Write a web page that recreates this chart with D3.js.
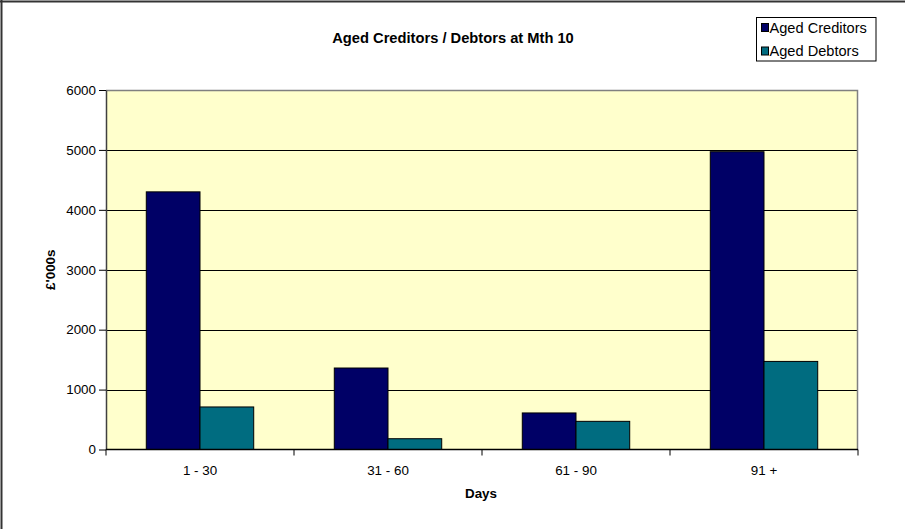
<!DOCTYPE html>
<html>
<head>
<meta charset="utf-8">
<script src="https://cdn.jsdelivr.net/npm/d3@7"></script>
<style>
  html, body { margin: 0; padding: 0; background: #ffffff; }
  svg { display: block; font-family: "Liberation Sans", Arial, sans-serif; }
</style>
</head>
<body>
<svg id="chart" width="905" height="529"></svg>
<script>
// Ageing buckets and the two balances (£'000s)
const categories = ["1 - 30", "31 - 60", "61 - 90", "91 +"];
const seriesNames = ["Aged Creditors", "Aged Debtors"];
const creditors = [4300, 1360, 610, 4970];
const debtors = [710, 180, 470, 1470];
const yTicks = [0, 1000, 2000, 3000, 4000, 5000, 6000];
const seriesColors = ["#000066", "#006C80"];

const svg = d3.select("#chart");
const W = 905, H = 529;
const plot = { left: 106, right: 858, top: 90, bottom: 449.5 };

// outer frame of the chart object
svg.append("line").attr("x1", 0).attr("x2", W).attr("y1", 1.5).attr("y2", 1.5)
  .attr("stroke", "#333").attr("stroke-width", 2);
svg.append("line").attr("x1", 1.5).attr("x2", 1.5).attr("y1", 0).attr("y2", H)
  .attr("stroke", "#333").attr("stroke-width", 2);

const x = d3.scaleBand().domain(categories).range([plot.left, plot.right]).padding(0);
const x1 = d3.scaleBand().domain(seriesNames).range([0, x.bandwidth()])
  .paddingInner(0).paddingOuter(0.75);
const y = d3.scaleLinear().domain([0, 6000]).range([plot.bottom, plot.top]);

// plot background
svg.append("rect")
  .attr("x", plot.left).attr("y", plot.top)
  .attr("width", plot.right - plot.left).attr("height", plot.bottom - plot.top)
  .attr("fill", "#FFFFCC");

// horizontal gridlines
svg.append("g")
  .selectAll("line")
  .data(yTicks.filter(t => t > 0 && t < 6000))
  .join("line")
  .attr("x1", plot.left).attr("x2", plot.right)
  .attr("y1", d => Math.round(y(d)) + 0.5).attr("y2", d => Math.round(y(d)) + 0.5)
  .attr("stroke", "#000").attr("stroke-width", 1);

// plot border (top and right)
svg.append("path")
  .attr("d", `M${plot.left},${plot.top + 0.5}H${plot.right - 0.5}V${plot.bottom}`)
  .attr("fill", "none").attr("stroke", "#808080").attr("stroke-width", 1.5);

// bars
const rows = categories.map((c, i) => ({ cat: c, vals: [creditors[i], debtors[i]] }));
const groups = svg.append("g").selectAll("g")
  .data(rows).join("g")
  .attr("transform", d => `translate(${x(d.cat)},0)`);
groups.selectAll("rect")
  .data(d => d.vals.map((v, j) => ({ name: seriesNames[j], value: v, j })))
  .join("rect")
  .attr("x", d => x1(d.name))
  .attr("y", d => y(d.value))
  .attr("width", x1.bandwidth())
  .attr("height", d => y(0) - y(d.value))
  .attr("fill", d => seriesColors[d.j])
  .attr("stroke", "#000").attr("stroke-width", 1);

// y axis
const yAxis = d3.axisLeft(y).tickValues(yTicks).tickFormat(d3.format("d"))
  .tickSize(7).tickPadding(3).tickSizeOuter(0);
const gy = svg.append("g").attr("transform", `translate(${plot.left},0)`).call(yAxis);
gy.select(".domain").attr("stroke", "#404040").attr("stroke-width", 1.5);
gy.selectAll(".tick line").attr("stroke", "#000");
gy.selectAll(".tick text").attr("font-size", "13.4px").attr("fill", "#000")
  .attr("font-family", "'Liberation Sans', Arial, sans-serif");

// x axis with ticks at category boundaries
const gx = svg.append("g").attr("transform", `translate(0,${plot.bottom})`);
gx.append("line").attr("x1", plot.left).attr("x2", plot.right)
  .attr("y1", 0).attr("y2", 0).attr("stroke", "#000").attr("stroke-width", 1.5);
const bounds = categories.map(c => x(c)).concat([x.range()[1]]);
gx.selectAll("line.tk").data(bounds).join("line").attr("class", "tk")
  .attr("x1", d => d).attr("x2", d => d).attr("y1", 0).attr("y2", 6)
  .attr("stroke", "#000");
gx.selectAll("text").data(categories).join("text")
  .attr("x", d => x(d) + x.bandwidth() / 2)
  .attr("y", 25)
  .attr("text-anchor", "middle")
  .attr("font-size", "13.4px")
  .attr("fill", "#000")
  .text(d => d);

// titles
svg.append("text")
  .attr("x", 453).attr("y", 42.5)
  .attr("text-anchor", "middle")
  .attr("font-size", "14.7px").attr("font-weight", "bold")
  .text("Aged Creditors / Debtors at Mth 10");
svg.append("text")
  .attr("x", 481).attr("y", 498)
  .attr("text-anchor", "middle")
  .attr("font-size", "13.4px").attr("font-weight", "bold")
  .text("Days");
svg.append("text")
  .attr("transform", `translate(55,${(plot.top + plot.bottom) / 2}) rotate(-90)`)
  .attr("text-anchor", "middle")
  .attr("font-size", "13.4px").attr("font-weight", "bold")
  .text("£'000s");

// legend
const lg = svg.append("g");
lg.append("rect").attr("x", 756.5).attr("y", 17.5).attr("width", 119.5).attr("height", 43.5)
  .attr("fill", "#fff").attr("stroke", "#000").attr("stroke-width", 1);
seriesNames.forEach((name, i) => {
  lg.append("rect")
    .attr("x", 761.5).attr("y", 23.5 + i * 23.5).attr("width", 7).attr("height", 8)
    .attr("fill", seriesColors[i]).attr("stroke", "#000").attr("stroke-width", 1);
  lg.append("text")
    .attr("x", 769.5).attr("y", 33 + i * 23.2)
    .attr("font-size", "14.6px").attr("fill", "#000")
    .text(name);
});
</script>
</body>
</html>
